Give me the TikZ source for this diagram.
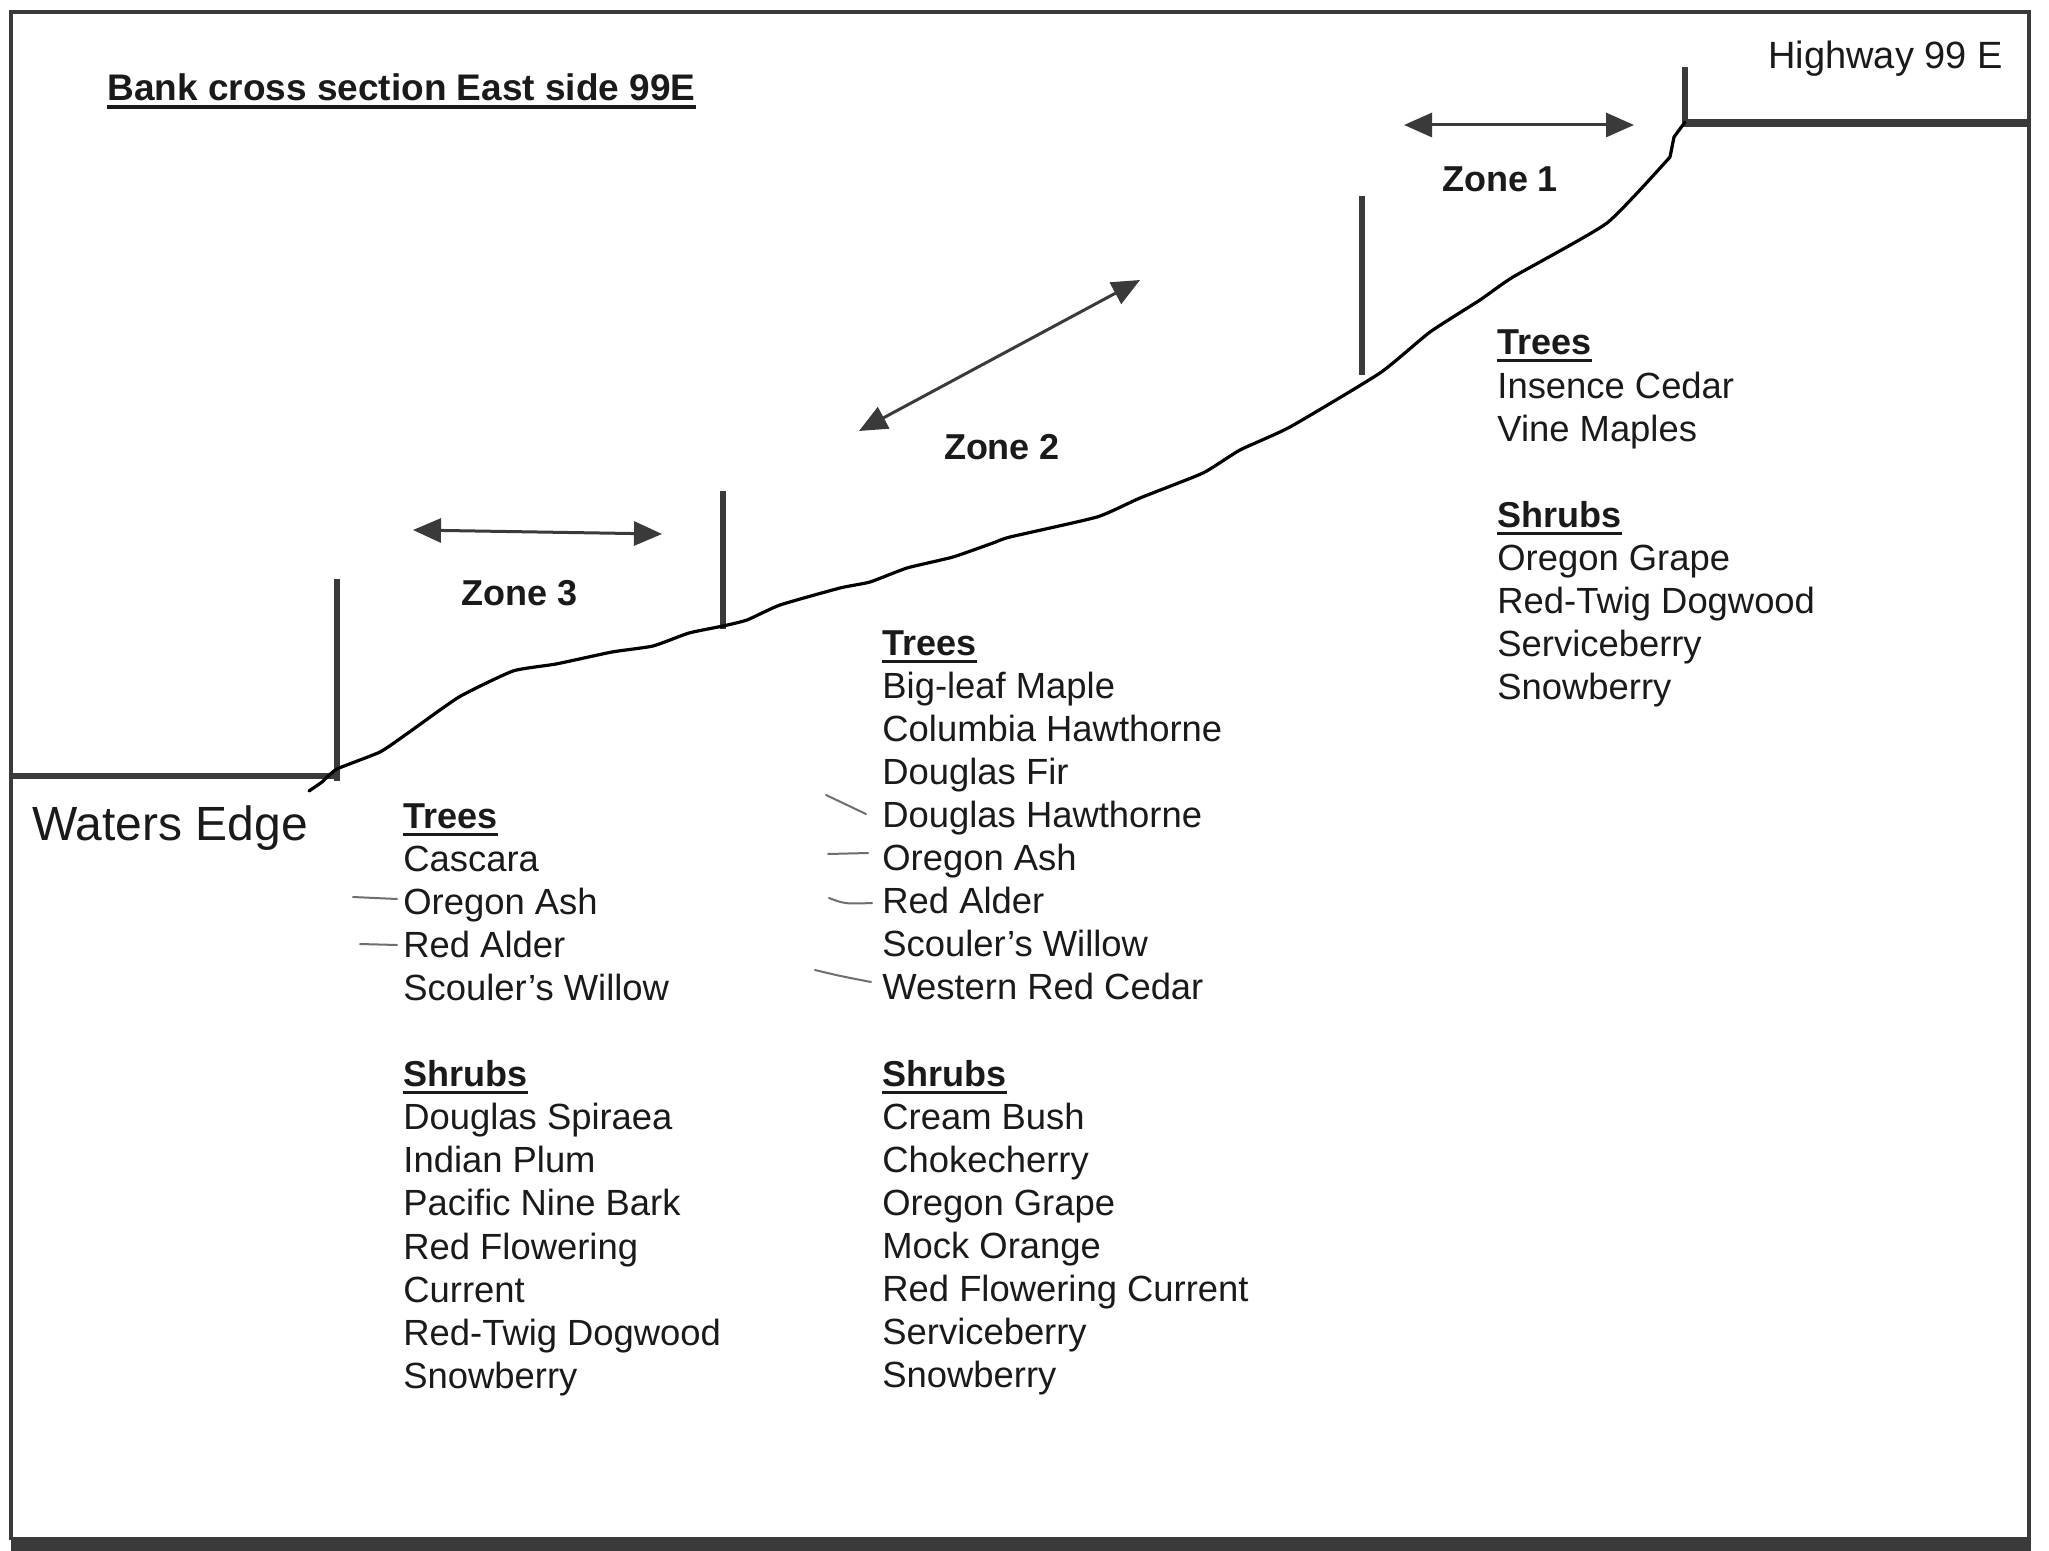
\documentclass[tikz,border=0pt]{standalone}
\usepackage{fontspec}
\setmainfont{Liberation Sans}
\usetikzlibrary{arrows.meta}
\definecolor{ink}{HTML}{1A1A1A}
\definecolor{linegray}{HTML}{3A3A3A}
\definecolor{pencil}{HTML}{6E6E6E}
\begin{document}
\begin{tikzpicture}[x=0.5pt,y=-0.5pt,
  txt/.style={inner sep=0pt, anchor=base west, text=ink, font=\fontsize{18.2}{21.5}\selectfont},
  hdr/.style={inner sep=0pt, anchor=base west, text=ink, font=\fontsize{18}{21.5}\selectfont\bfseries},
  zonelbl/.style={inner sep=0pt, anchor=base, text=ink, font=\fontsize{18}{21.5}\selectfont\bfseries},
  frame/.style={draw=linegray, line width=2pt},
  marker/.style={draw=linegray, line width=3pt},
  zonearrow/.style={draw=linegray, line width=1.5pt, {Triangle[length=14pt,width=12pt]}-{Triangle[length=14pt,width=12pt]}},
  slope/.style={draw=black, line width=1.6pt, line join=round, line cap=round},
  tickmark/.style={draw=pencil, line width=1pt, line cap=round},
  uline/.style={draw=ink, line width=1.5pt}]
\useasboundingbox (0,0) rectangle (2049,1551);
\fill[white] (0,0) rectangle (2049,1551);

% frame
\draw[frame] (11,1540) -- (11,12) -- (2029,12) -- (2029,1540);
\fill[linegray] (11,1537) rectangle (2031,1551);

% title
\node[hdr, font=\fontsize{18.5}{22}\selectfont\bfseries] (title) at (107,101) {Bank cross section East side 99E};
\draw[uline, line width=2pt] ([yshift=-3pt]title.base west) -- ([yshift=-3pt]title.base east);
\node[txt, font=\fontsize{19}{22}\selectfont] (hwy) at (1768,69) {Highway 99 E};
\node[txt, font=\fontsize{24}{28}\selectfont] (water) at (32,840) {Waters Edge};

% ground lines
\draw[marker] (11,776) -- (337,776);
\draw[marker] (337,579) -- (337,781);
\draw[marker] (723,491) -- (723,629);
\draw[marker] (1362,196) -- (1362,375);
\draw[marker] (1685,67) -- (1685,123);
\draw[marker, line width=4pt] (1683,123) -- (2029,123);

% slope
\draw[slope] plot[smooth, tension=0.3] coordinates {
 (309,791) (322,782) (337,769) (380,752) (408,733) (459,697) (513,671)
 (556,664) (612,652) (653,646) (689,633) (723,626) (747,620) (780,605)
 (840,588) (870,582) (907,568) (953,557) (993,543) (1010,537) (1097,517)
 (1140,498) (1203,473) (1240,450) (1290,427) (1380,373) (1430,332)
 (1480,300) (1513,277) (1607,223) (1670,157)}
 -- (1674,137) -- (1685,122);

% zones
\coordinate (z1a) at (1404,125); \coordinate (z1b) at (1634,125);
\coordinate (z2a) at (859,431);  \coordinate (z2b) at (1140,280);
\coordinate (z3a) at (413,530);  \coordinate (z3b) at (662,534);
\draw[zonearrow] (z1a) -- (z1b);
\draw[zonearrow] (z2a) -- (z2b);
\draw[zonearrow] (z3a) -- (z3b);
\node[zonelbl] (zone1) at (1500,192) {Zone 1};
\node[zonelbl] (zone2) at (1002,459) {Zone 2};
\node[zonelbl] (zone3) at (520,605) {Zone 3};

% left column (zone 3)
\node[hdr] (lTrees) at (403,828) {Trees};
\draw[uline] ([yshift=-3pt]lTrees.base west) -- ([yshift=-3pt]lTrees.base east);
\foreach [count=\i] \t in {Cascara,Oregon Ash,Red Alder,Scouler’s Willow}
  \node[txt] (lt\i) at (403,{828+43.1*\i}) {\t};
\node[hdr] (lShrubs) at (403,{828+43.1*6}) {Shrubs};
\draw[uline] ([yshift=-3pt]lShrubs.base west) -- ([yshift=-3pt]lShrubs.base east);
\foreach [count=\i] \t in {Douglas Spiraea,Indian Plum,Pacific Nine Bark,Red Flowering,Current,Red-Twig Dogwood,Snowberry}
  \node[txt] (ls\i) at (403,{828+43.1*(6+\i)}) {\t};

% middle column (zone 2)
\node[hdr] (mTrees) at (882,655) {Trees};
\draw[uline] ([yshift=-3pt]mTrees.base west) -- ([yshift=-3pt]mTrees.base east);
\foreach [count=\i] \t in {Big-leaf Maple,Columbia Hawthorne,Douglas Fir,Douglas Hawthorne,Oregon Ash,Red Alder,Scouler’s Willow,Western Red Cedar}
  \node[txt] (mt\i) at (882,{655+43.1*\i}) {\t};
\node[hdr] (mShrubs) at (882,{655+43.1*10}) {Shrubs};
\draw[uline] ([yshift=-3pt]mShrubs.base west) -- ([yshift=-3pt]mShrubs.base east);
\foreach [count=\i] \t in {Cream Bush,Chokecherry,Oregon Grape,Mock Orange,Red Flowering Current,Serviceberry,Snowberry}
  \node[txt] (ms\i) at (882,{655+43.1*(10+\i)}) {\t};

% right column (zone 1)
\node[hdr] (rTrees) at (1497,355) {Trees};
\draw[uline] ([yshift=-3pt]rTrees.base west) -- ([yshift=-3pt]rTrees.base east);
\foreach [count=\i] \t in {Insence Cedar,Vine Maples}
  \node[txt] (rt\i) at (1497,{355+43.1*\i}) {\t};
\node[hdr] (rShrubs) at (1497,{355+43.1*4}) {Shrubs};
\draw[uline] ([yshift=-3pt]rShrubs.base west) -- ([yshift=-3pt]rShrubs.base east);
\foreach [count=\i] \t in {Oregon Grape,Red-Twig Dogwood,Serviceberry,Snowberry}
  \node[txt] (rs\i) at (1497,{355+43.1*(4+\i)}) {\t};

% pencil ticks
\draw[tickmark] (353,897) -- (397,899);
\draw[tickmark] (360,944) -- (397,945);
\draw[tickmark] (826,795) -- (866,814);
\draw[tickmark] (828,854) -- (868,853);
\draw[tickmark] (829,898) .. controls (845,904) .. (872,903);
\draw[tickmark] (815,970) .. controls (840,976) .. (871,982);
\end{tikzpicture}
\end{document}
